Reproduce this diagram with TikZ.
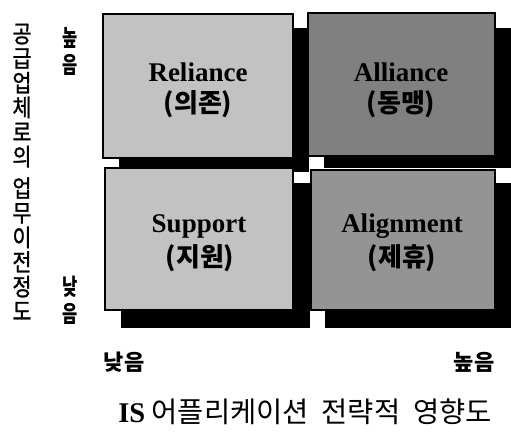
\documentclass[tikz,border=0pt]{standalone}
\usepackage{fontspec}
\setmainfont{Liberation Serif}
\newfontfamily\kr{Noto Sans CJK KR}
\newfontfamily\krm{Noto Sans CJK KR}[FakeBold=1.2]
\newcommand{\vch}[1]{\scalebox{0.9}[1.04]{#1}}
\newcommand{\sch}[1]{\scalebox{0.75}[1.05]{#1}}
\tikzset{
  shadowbox/.style={fill=black, draw=none},
  quad/.style={draw=black, line width=1.6pt},
  qtext/.style={font=\fontsize{27}{27}\selectfont\bfseries, inner sep=0pt, anchor=center},
  ktext/.style={font=\kr\fontsize{26}{26}\selectfont\bfseries, inner sep=0pt, anchor=center},
  vtext/.style={font=\krm\fontsize{23}{24.6}\selectfont, align=center, inner sep=0pt},
  vside/.style={font=\kr\bfseries\fontsize{22}{27}\selectfont, align=center, inner sep=0pt},
  hlabel/.style={font=\kr\fontsize{22}{22}\selectfont\bfseries, inner sep=0pt},
}
\begin{document}
\begin{tikzpicture}[x=1pt,y=-1pt]
\useasboundingbox (0,0) rectangle (511,432);
% shadows
\fill[shadowbox] (119,28) rectangle (309,172);
\fill[shadowbox] (324,28) rectangle (511,168);
\fill[shadowbox] (121,183) rectangle (310,328);
\fill[shadowbox] (325,183) rectangle (511,328);
% quadrants
\draw[quad, fill=black!24] (103,14) rectangle (293,158);
\draw[quad, fill=black!50] (308,13) rectangle (495,156);
\draw[quad, fill=black!24] (105,168) rectangle (293,310);
\draw[quad, fill=black!42] (311,170) rectangle (495,310);
% labels
\node[qtext] (rel) at (198,72) {Reliance};
\node[ktext] (relk) at (198,104) {(의존)};
\node[qtext] (all) at (401,72) {Alliance};
\node[ktext] (allk) at (401,104) {(동맹)};
\node[qtext] (sup) at (199,226) {Support};
\node[ktext] (supk) at (200,258) {(지원)};
\node[qtext] (ali) at (402,226) {Alignment};
\node[ktext] (alik) at (402,258) {(제휴)};
% left axis
\node[vtext] (ylab) at (22,172) {\vch{공}\\\vch{급}\\\vch{업}\\\vch{체}\\\vch{로}\\\vch{의}\\[7pt]\vch{업}\\\vch{무}\\\vch{이}\\\vch{전}\\\vch{정}\\\vch{도}};
\node[vside] (yhi) at (70,51) {\sch{높}\\\sch{음}};
\node[vside] (ylo) at (70,300) {\sch{낮}\\\sch{음}};
% bottom axis
\node[hlabel] (xlo) at (124,362) {낮음};
\node[hlabel] (xhi) at (474,362) {높음};
\node[inner sep=0pt] (xlab) at (305,412) {\fontsize{28.5}{28.5}\selectfont\bfseries IS\kr\mdseries\fontsize{28.5}{28.5}\selectfont\ 어플리케이션\ \ 전략적\ \ 영향도};
\end{tikzpicture}
\end{document}
